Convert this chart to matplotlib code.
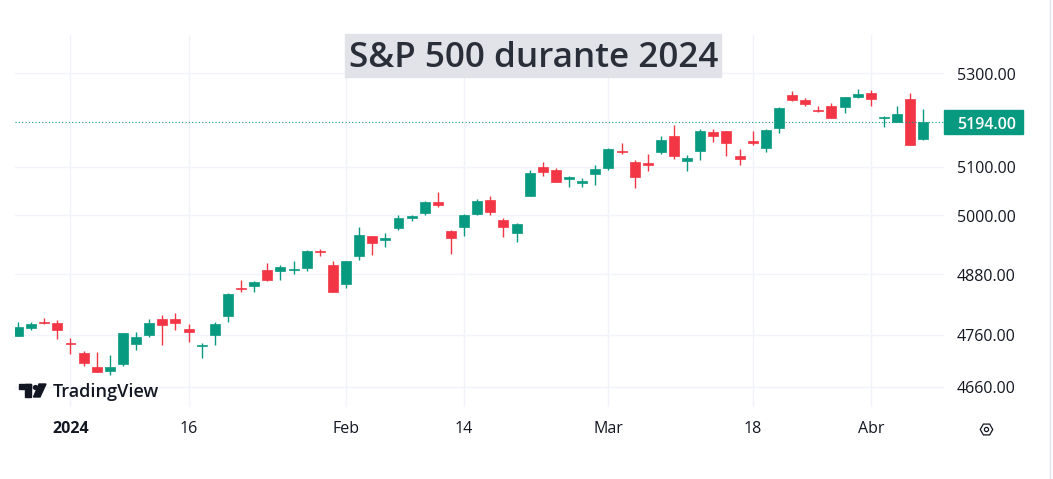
import matplotlib
matplotlib.use("Agg")
import matplotlib.pyplot as plt
from matplotlib.patches import Rectangle, Polygon
from matplotlib.lines import Line2D
from matplotlib.ticker import NullLocator
import matplotlib.transforms as mtransforms

plt.rcParams['font.family'] = ['Open Sans', 'DejaVu Sans']

# S&P 500 daily candles, 26 Dec 2023 .. 5 Apr 2024
dates = ["2023-12-26", "2023-12-27", "2023-12-28", "2023-12-29",
         "2024-01-02", "2024-01-03", "2024-01-04", "2024-01-05", "2024-01-08",
         "2024-01-09", "2024-01-10", "2024-01-11", "2024-01-12", "2024-01-16",
         "2024-01-17", "2024-01-18", "2024-01-19", "2024-01-22", "2024-01-23",
         "2024-01-24", "2024-01-25", "2024-01-26", "2024-01-29", "2024-01-30",
         "2024-01-31", "2024-02-01", "2024-02-02", "2024-02-05", "2024-02-06",
         "2024-02-07", "2024-02-08", "2024-02-09", "2024-02-12", "2024-02-13",
         "2024-02-14", "2024-02-15", "2024-02-16", "2024-02-20", "2024-02-21",
         "2024-02-22", "2024-02-23", "2024-02-26", "2024-02-27", "2024-02-28",
         "2024-02-29", "2024-03-01", "2024-03-04", "2024-03-05", "2024-03-06",
         "2024-03-07", "2024-03-08", "2024-03-11", "2024-03-12", "2024-03-13",
         "2024-03-14", "2024-03-15", "2024-03-18", "2024-03-19", "2024-03-20",
         "2024-03-21", "2024-03-22", "2024-03-25", "2024-03-26", "2024-03-27",
         "2024-03-28", "2024-04-01", "2024-04-02", "2024-04-03", "2024-04-04",
         "2024-04-05"]

opens = [4758.9, 4773.5, 4786.4, 4782.9,
         4745.2, 4725.1, 4697.4, 4690.6, 4703.7, 4741.9, 4759.9, 4792.1, 4791.2, 4772.4,
         4739.1, 4760.1, 4796.3, 4853.4, 4856.8, 4888.6, 4886.7, 4888.9, 4893.0, 4925.9,
         4899.2, 4861.1, 4916.1, 4957.2, 4950.2, 4973.1, 4995.2, 5004.2, 5026.8, 4967.9,
         4976.4, 5003.1, 5031.1, 4989.3, 4963.0, 5038.8, 5100.9, 5093.0, 5074.6, 5067.2,
         5085.4, 5098.5, 5131.0, 5110.5, 5108.0, 5132.4, 5164.5, 5112.0, 5134.3, 5173.5,
         5175.1, 5123.3, 5154.8, 5139.1, 5181.7, 5253.4, 5242.5, 5219.5, 5228.9, 5226.3,
         5248.0, 5258.0, 5204.3, 5194.4, 5244.1, 5159.0]
highs = [4784.7, 4785.4, 4793.3, 4788.4,
         4754.3, 4729.3, 4726.8, 4721.5, 4764.5, 4765.5, 4790.8, 4798.5, 4802.4, 4782.3,
         4744.2, 4785.8, 4842.1, 4868.4, 4866.5, 4903.7, 4898.2, 4906.7, 4929.3, 4931.1,
         4906.8, 4907.0, 4975.3, 4957.2, 4963.0, 4999.9, 5000.4, 5030.1, 5048.4, 4969.8,
         5002.5, 5032.7, 5038.7, 4993.7, 4983.2, 5094.4, 5111.1, 5097.7, 5080.7, 5077.4,
         5105.0, 5140.3, 5149.7, 5114.2, 5128.0, 5165.6, 5189.3, 5124.7, 5179.9, 5179.1,
         5176.9, 5136.9, 5175.6, 5180.3, 5226.2, 5261.1, 5246.1, 5229.1, 5235.2, 5249.3,
         5264.9, 5264.0, 5208.3, 5228.8, 5256.6, 5222.0]
lows = [4758.5, 4768.9, 4781.0, 4752.0,
        4722.7, 4699.7, 4687.5, 4682.1, 4699.8, 4730.4, 4756.2, 4739.6, 4769.0, 4747.1,
        4714.8, 4740.6, 4785.9, 4844.1, 4844.4, 4865.9, 4869.3, 4881.5, 4887.4, 4916.3,
        4845.2, 4853.5, 4908.0, 4918.1, 4935.0, 4969.1, 4987.1, 5000.3, 5016.2, 4920.3,
        4956.5, 4999.4, 4999.5, 4955.0, 4946.0, 5038.8, 5081.5, 5068.9, 5057.3, 5058.4,
        5061.9, 5094.5, 5127.2, 5056.8, 5091.1, 5128.2, 5117.5, 5091.1, 5114.5, 5151.9,
        5123.3, 5104.4, 5145.5, 5131.6, 5171.6, 5240.7, 5229.9, 5216.1, 5203.4, 5213.9,
        5245.8, 5229.2, 5184.1, 5194.4, 5146.1, 5157.0]
closes = [4774.8, 4781.6, 4783.4, 4769.8,
          4742.8, 4704.8, 4688.7, 4697.2, 4763.5, 4756.5, 4783.5, 4780.2, 4783.8, 4766.0,
          4739.2, 4780.9, 4839.8, 4850.4, 4864.6, 4868.6, 4894.2, 4891.0, 4927.9, 4925.0,
          4845.7, 4906.2, 4958.6, 4942.8, 4954.2, 4995.1, 4997.9, 5026.6, 5021.8, 4953.2,
          5000.6, 5029.7, 5005.6, 4975.5, 4981.8, 5087.0, 5088.8, 5069.5, 5078.2, 5069.8,
          5096.3, 5137.1, 5130.9, 5078.7, 5104.8, 5157.4, 5123.7, 5117.9, 5175.3, 5165.3,
          5150.5, 5117.1, 5149.4, 5178.5, 5224.6, 5241.5, 5234.2, 5218.2, 5203.6, 5248.5,
          5254.4, 5243.8, 5205.8, 5211.5, 5147.2, 5194.0]

tick_pos = [4, 13, 25, 34, 45, 56, 65]
tick_labels = ["2024", "16", "Feb", "14", "Mar", "18", "Abr"]
price_ticks = [5400, 5300, 5100, 5000, 4880, 4760, 4660]
title = "S&P 500 durante 2024"

UP = "#089981"
DOWN = "#F23645"
TXT = "#131722"
GRID = "#f0f3fa"
YLIM = (4621.3, 5384.0)

W, H = 1053, 479
def fx(x):
    return x / W
def fy(y):
    return 1 - y / H

fig = plt.figure(figsize=(W / 100, H / 100), dpi=100)
fig.patch.set_facecolor("white")

# main chart area
ax = fig.add_axes([fx(15), fy(407), fx(944) - fx(15), fy(35) - fy(407)])
ax.set_yscale("log")
for s in ax.spines.values():
    s.set_visible(False)
ax.yaxis.set_minor_locator(NullLocator())
ax.set_yticks(price_ticks)
ax.set_xticks(tick_pos)
ax.set_ylim(YLIM)
ax.set_xlim(-0.23, 70.58)
ax.tick_params(length=0, labelleft=False, labelbottom=False)
ax.grid(True, color=GRID, linewidth=1)
ax.set_axisbelow(True)

x = list(range(len(dates)))
cols = [UP if c >= o else DOWN for o, c in zip(opens, closes)]
bottoms = [min(o, c) for o, c in zip(opens, closes)]
heights = [max(abs(c - o), 1.8) for o, c in zip(opens, closes)]
ax.vlines(x, lows, highs, colors=cols, linewidth=1)
ax.bar(x, heights, bottom=bottoms, width=0.76, color=cols, edgecolor=cols, linewidth=0.5)

last = closes[-1]
ax.axhline(last, color=UP, linestyle=(0, (1, 2)), linewidth=0.8)

for p, lab in zip(tick_pos, tick_labels):
    ax.text(p, (407 - 432.7) / 372, lab, transform=ax.get_xaxis_transform(),
            ha="center", va="baseline", fontsize=11.5, color=TXT,
            fontweight="bold" if lab == "2024" else "normal")

# price scale
ax2 = fig.add_axes([fx(944), fy(407), fx(1049) - fx(944), fy(35) - fy(407)])
ax2.set_yscale("log")
ax2.set_ylim(YLIM)
ax2.set_xlim(0, 105)
ax2.axis("off")
down = mtransforms.ScaledTranslation(0, -6.5 / 100, fig.dpi_scale_trans)
scale_clip = mtransforms.Bbox.from_extents(944, H - 407, 1049, H - 33.5)
for p in price_ticks:
    t = ax2.text(12.7, p, f"{p:.2f}", transform=ax2.transData + down,
                 ha="left", va="baseline", fontsize=11.5, color=TXT)
    t.set_clip_box(scale_clip)
    t.set_clip_on(True)

# current price label
lab_h = 24 / 372
ytr = mtransforms.blended_transform_factory(ax2.transData, ax2.transAxes)
y_last = (407 - 121.7) / 372
ax2.add_patch(Rectangle((0, y_last - lab_h / 2), 79, lab_h, transform=ytr,
                        color=UP, clip_on=False))
ax2.text(12.7, last, f"{last:.2f}", transform=ax2.transData + down,
         ha="left", va="baseline", fontsize=11.5, color="white", fontweight="semibold")

# right border
fig.add_artist(Line2D([fx(1049.5), fx(1049.5)], [0, 1], color="#e0e3eb", linewidth=1))

# title box
fig.add_artist(Rectangle((fx(345), fy(77)), fx(721) - fx(345), fy(34) - fy(77),
                         color="#e1e3e8", transform=fig.transFigure))
fig.text(fx(533.5), fy(67), title, ha="center", va="baseline", fontsize=25.3,
         fontweight="semibold", color="#2a2e39")

# TradingView logo
fig.add_artist(Rectangle((fx(19), fy(389)), fx(31) - fx(19), fy(384) - fy(389),
                         color=TXT, transform=fig.transFigure))
fig.add_artist(Rectangle((fx(25), fy(397)), fx(31) - fx(25), fy(384) - fy(397),
                         color=TXT, transform=fig.transFigure))
fig.add_artist(Polygon([(fx(39), fy(384)), (fx(46), fy(384)), (fx(40), fy(397)), (fx(33.5), fy(397))],
                       closed=True, color=TXT, transform=fig.transFigure))
fig.add_artist(Line2D([fx(34.5)], [fy(386.5)], marker="o", markersize=3.8, color=TXT,
                      markeredgewidth=0))
fig.text(fx(53), fy(396.7), "TradingView", ha="left", va="baseline", fontsize=13,
         fontweight="semibold", color=TXT)

# settings icon
fig.add_artist(Line2D([fx(986)], [fy(429)], marker="H", markersize=9, fillstyle="none",
                      markeredgecolor=TXT, markeredgewidth=0.9))
fig.add_artist(Line2D([fx(986)], [fy(429)], marker="o", markersize=3, fillstyle="none",
                      markeredgecolor=TXT, markeredgewidth=0.9))

fig.savefig("out.png", dpi=100)
